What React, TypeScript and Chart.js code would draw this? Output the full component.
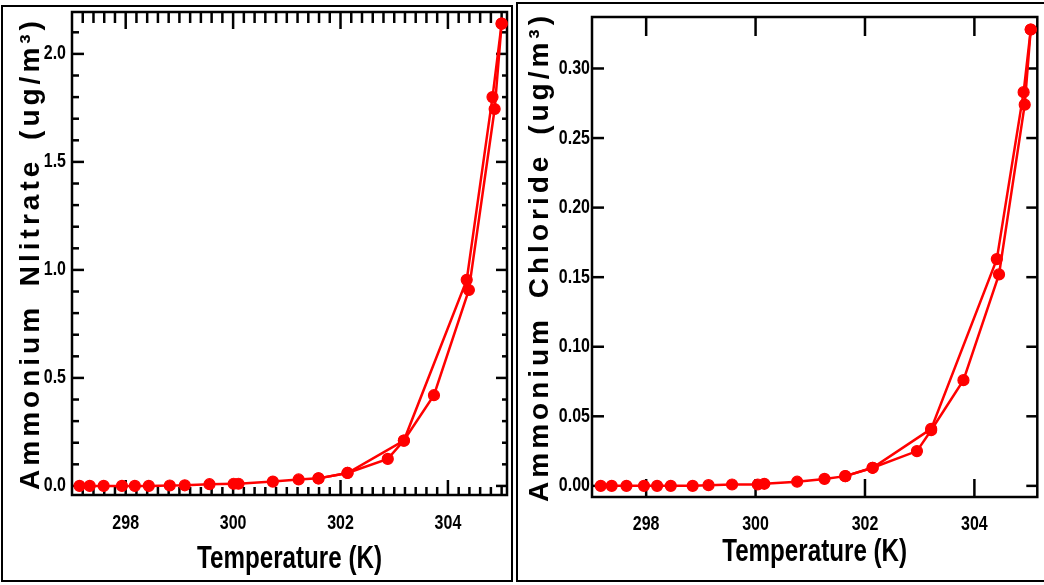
import React, { useEffect, useRef } from "react";
import { Chart, registerables } from "chart.js";
Chart.register(...registerables);

// ---------- data ----------
const nitrateTempA = [297.14, 297.33, 297.59, 297.93, 298.17, 298.43, 298.82, 299.1, 299.56, 300.01, 300.1, 300.74, 301.22, 301.59, 302.13, 302.88, 303.18, 303.74, 304.39, 304.87, 305.0];
const nitrateValA = [0.0, 0.0, 0.0, 0.0, 0.0, 0.0, 0.002, 0.003, 0.008, 0.01, 0.01, 0.02, 0.03, 0.035, 0.06, 0.125, 0.21, 0.42, 0.907, 1.745, 2.14];
const nitrateTempB = [301.59, 302.13, 303.18, 304.35, 304.83, 305.0];
const nitrateValB = [0.035, 0.06, 0.21, 0.954, 1.8, 2.14];

const chlorideTempA = [297.17, 297.37, 297.64, 297.96, 298.2, 298.45, 298.85, 299.14, 299.57, 300.04, 300.16, 300.76, 301.26, 301.64, 302.14, 302.95, 303.21, 303.8, 304.45, 304.92, 305.03];
const chlorideValA = [0.0, 0.0, 0.0, 0.0, 0.0, 0.0, 0.0, 0.0005, 0.001, 0.001, 0.0015, 0.003, 0.005, 0.007, 0.013, 0.025, 0.04, 0.076, 0.152, 0.274, 0.328];
const chlorideTempB = [301.64, 302.14, 303.21, 304.41, 304.9, 305.03];
const chlorideValB = [0.007, 0.013, 0.041, 0.163, 0.283, 0.328];

const tempTicks = [298, 300, 302, 304];
const nitrateTicks = [0.0, 0.5, 1.0, 1.5, 2.0];
const chlorideTicks = [0.0, 0.05, 0.1, 0.15, 0.2, 0.25, 0.3];

const xTitle = "Temperature (K)";
const nitrateTitle = "Ammonium Nlitrate (ug/m³)";
const chlorideTitle = "Ammonium Chloride (ug/m³)";

const RED = "#ff0000";
const FAMILY = "'Liberation Sans', Arial, sans-serif";
const TICK_FONT = { family: FAMILY, size: 20, weight: "bold" as const };
const XTITLE_FONT = { family: FAMILY, size: 31, weight: "bold" as const };
const YTITLE_FONT = { family: FAMILY, size: 28, weight: "bold" as const };

function minorValues(min: number, max: number, step: number, majors: number[]) {
  const out: number[] = [];
  if (!step) return out;
  const start = Math.ceil(min / step - 1e-9);
  const end = Math.floor(max / step + 1e-9);
  for (let i = start; i <= end; i++) {
    const v = i * step;
    if (!majors.some((m) => Math.abs(m - v) < step / 10)) out.push(v);
  }
  return out;
}

// draw text horizontally condensed / spaced (emulates the face of the original)
function withText(ctx: any, sx: number, letter: string, word: string, fn: () => void) {
  const proto = Object.getPrototypeOf(ctx);
  const orig = proto.fillText;
  ctx.fillText = function (text: string, x: number, y: number) {
    this.save();
    if ("letterSpacing" in this) this.letterSpacing = letter;
    if ("wordSpacing" in this) this.wordSpacing = word;
    this.translate(x, y);
    this.scale(sx, 1);
    orig.call(this, text, 0, 0);
    this.restore();
  };
  try {
    fn();
  } finally {
    delete ctx.fillText;
  }
}

const framePlugin = {
  id: "frame",
  beforeDraw(chart: any, _args: any, opts: any) {
    const ctx = chart.ctx;
    for (const id of ["x", "y"]) {
      const s = chart.scales[id];
      if (s && !s.__wrapped) {
        const dl = s.drawLabels.bind(s);
        const dt = s.drawTitle.bind(s);
        s.drawLabels = (...a: any[]) => withText(ctx, opts.labelSx, "0px", "0px", () => dl(...a));
        if (id === "x") s.drawTitle = (...a: any[]) => withText(ctx, opts.xTitleSx, "0px", "0px", () => dt(...a));
        else s.drawTitle = (...a: any[]) => withText(ctx, 1, opts.yTitleLetter, opts.yTitleWord, () => dt(...a));
        s.__wrapped = true;
      }
    }
    ctx.save();
    ctx.fillStyle = "#fff";
    ctx.fillRect(0, 0, chart.width, chart.height);
    ctx.strokeStyle = "#000";
    ctx.lineWidth = 2;
    const o = opts.outer;
    ctx.strokeRect(o[0], o[1], o[2], o[3]);
    ctx.restore();
  },
  beforeDatasetsDraw(chart: any, _args: any, opts: any) {
    const ctx = chart.ctx;
    const a = chart.chartArea;
    const xs = chart.scales.x;
    const ys = chart.scales.y;
    ctx.save();
    ctx.strokeStyle = "#000";
    ctx.lineCap = "butt";
    const line = (x1: number, y1: number, x2: number, y2: number, w: number) => {
      ctx.lineWidth = w;
      ctx.beginPath();
      ctx.moveTo(x1, y1);
      ctx.lineTo(x2, y2);
      ctx.stroke();
    };
    const t = opts.ticks;
    for (const v of opts.xMajors) {
      const p = xs.getPixelForValue(v);
      line(p, a.bottom, p, a.bottom - t.bottomMajor, 2.5);
      line(p, a.top, p, a.top + t.topMajor, 2.5);
    }
    for (const v of minorValues(xs.min, xs.max, opts.xMinorStep, opts.xMajors)) {
      const p = xs.getPixelForValue(v);
      if (p <= a.left + 1 || p >= a.right - 1) continue;
      line(p, a.bottom, p, a.bottom - t.bottomMinor, 2.5);
      line(p, a.top, p, a.top + t.topMinor, 2.5);
    }
    for (const v of opts.yMajors) {
      const p = ys.getPixelForValue(v);
      line(a.left, p, a.left + t.leftMajor, p, 2.5);
      line(a.right, p, a.right - t.rightMajor, p, 2.5);
    }
    for (const v of minorValues(ys.min, ys.max, opts.yMinorStep, opts.yMajors)) {
      const p = ys.getPixelForValue(v);
      if (p <= a.top + 1 || p >= a.bottom - 1) continue;
      line(a.left, p, a.left + t.leftMinor, p, 2.5);
      line(a.right, p, a.right - t.rightMinor, p, 2.5);
    }
    ctx.lineWidth = 2.5;
    ctx.strokeRect(a.left, a.top, a.right - a.left, a.bottom - a.top);
    ctx.restore();
  },
};

type PanelProps = {
  width: number;
  height: number;
  left: number;
  tempA: number[];
  valA: number[];
  tempB: number[];
  valB: number[];
  xMin: number;
  xMax: number;
  yMin: number;
  yMax: number;
  yTicks: number[];
  yDecimals: number;
  yTitle: string;
  padding: { left: number; top: number; right: number; bottom: number };
  yWidth: number;
  xHeight: number;
  yTickPad: number;
  yTitlePad: number;
  xTickPad: number;
  xTitlePad: number;
  outer: number[];
  xMinorStep: number;
  yMinorStep: number;
  ticks: any;
  yTitleLetter: string;
  yTitleWord: string;
};

function Panel(p: PanelProps) {
  const ref = useRef<HTMLCanvasElement | null>(null);
  useEffect(() => {
    if (!ref.current) return;
    const mk = (xs: number[], ys: number[]) => xs.map((x, i) => ({ x, y: ys[i] }));
    const ds = (data: any[]) => ({
      data,
      showLine: true,
      borderColor: RED,
      backgroundColor: RED,
      borderWidth: 2.5,
      pointRadius: 5.5,
      pointBorderWidth: 1.2,
      pointBorderColor: RED,
      pointBackgroundColor: RED,
      pointStyle: "circle",
      clip: false,
    });
    const chart = new Chart(ref.current, {
      type: "scatter",
      data: { datasets: [ds(mk(p.tempA, p.valA)), ds(mk(p.tempB, p.valB))] as any },
      options: {
        animation: false,
        responsive: false,
        devicePixelRatio: 1,
        layout: { padding: p.padding },
        plugins: {
          legend: { display: false },
          tooltip: { enabled: false },
          frame: {
            outer: p.outer,
            xMajors: tempTicks,
            yMajors: p.yTicks,
            xMinorStep: p.xMinorStep,
            yMinorStep: p.yMinorStep,
            ticks: p.ticks,
            labelSx: 0.8,
            xTitleSx: 0.78,
            yTitleLetter: p.yTitleLetter,
            yTitleWord: p.yTitleWord,
          },
        } as any,
        scales: {
          x: {
            type: "linear",
            position: "bottom",
            min: p.xMin,
            max: p.xMax,
            grid: { display: false, drawTicks: false },
            border: { display: false },
            ticks: { color: "#000", font: TICK_FONT, padding: p.xTickPad, maxRotation: 0, callback: (v: any) => String(v) },
            title: { display: true, text: xTitle, color: "#000", font: XTITLE_FONT, padding: { top: 0, bottom: p.xTitlePad } },
            afterBuildTicks: (s: any) => {
              s.ticks = tempTicks.map((v) => ({ value: v }));
            },
            afterFit: (s: any) => {
              s.height = p.xHeight;
              s.paddingLeft = 0;
              s.paddingRight = 0;
            },
          },
          y: {
            type: "linear",
            position: "left",
            min: p.yMin,
            max: p.yMax,
            grid: { display: false, drawTicks: false },
            border: { display: false },
            ticks: { color: "#000", font: TICK_FONT, padding: p.yTickPad, callback: (v: any) => Number(v).toFixed(p.yDecimals) },
            title: { display: true, text: p.yTitle, color: "#000", font: YTITLE_FONT, padding: { top: p.yTitlePad, bottom: 0 } },
            afterBuildTicks: (s: any) => {
              s.ticks = p.yTicks.map((v) => ({ value: v }));
            },
            afterFit: (s: any) => {
              s.width = p.yWidth;
              s.paddingTop = 0;
              s.paddingBottom = 0;
            },
          },
        },
      } as any,
      plugins: [framePlugin as any],
    });
    return () => chart.destroy();
  }, []);
  return (
    <canvas
      ref={ref}
      width={p.width}
      height={p.height}
      style={{ position: "absolute", left: p.left, top: 0, width: p.width, height: p.height, display: "block" }}
    />
  );
}

export default function App() {
  return (
    <div style={{ position: "fixed", left: 0, top: 0, width: 1044, height: 585, background: "#fff", overflow: "hidden" }}>
      <Panel
        width={514}
        height={585}
        left={0}
        tempA={nitrateTempA}
        valA={nitrateValA}
        tempB={nitrateTempB}
        valB={nitrateValB}
        xMin={297.0}
        xMax={305.1}
        yMin={-0.042}
        yMax={2.194}
        yTicks={nitrateTicks}
        yDecimals={1}
        yTitle={nitrateTitle}
        padding={{ left: 0, top: 12, right: 7, bottom: 0 }}
        yWidth={72}
        xHeight={90}
        yTickPad={6}
        yTitlePad={14}
        xTickPad={16}
        xTitlePad={7}
        outer={[2, 6, 510, 575]}
        xMinorStep={0.2}
        yMinorStep={0.1}
        ticks={{ bottomMajor: 15, bottomMinor: 8, topMajor: 17, topMinor: 11, leftMajor: 12, leftMinor: 7, rightMajor: 11, rightMinor: 5 }}
        yTitleLetter="4px"
        yTitleWord="6px"
      />
      <Panel
        width={530}
        height={585}
        left={514}
        tempA={chlorideTempA}
        valA={chlorideValA}
        tempB={chlorideTempB}
        valB={chlorideValB}
        xMin={297.01}
        xMax={305.15}
        yMin={-0.008}
        yMax={0.337}
        yTicks={chlorideTicks}
        yDecimals={2}
        yTitle={chlorideTitle}
        padding={{ left: 0, top: 17, right: 1, bottom: 0 }}
        yWidth={78}
        xHeight={88}
        yTickPad={2}
        yTitlePad={9}
        xTickPad={15}
        xTitlePad={14}
        outer={[3, 3, 600, 578]}
        xMinorStep={0}
        yMinorStep={0}
        ticks={{ bottomMajor: 18, bottomMinor: 0, topMajor: 19, topMinor: 0, leftMajor: 12, leftMinor: 0, rightMajor: 11, rightMinor: 0 }}
        yTitleLetter="4px"
        yTitleWord="6px"
      />
    </div>
  );
}
